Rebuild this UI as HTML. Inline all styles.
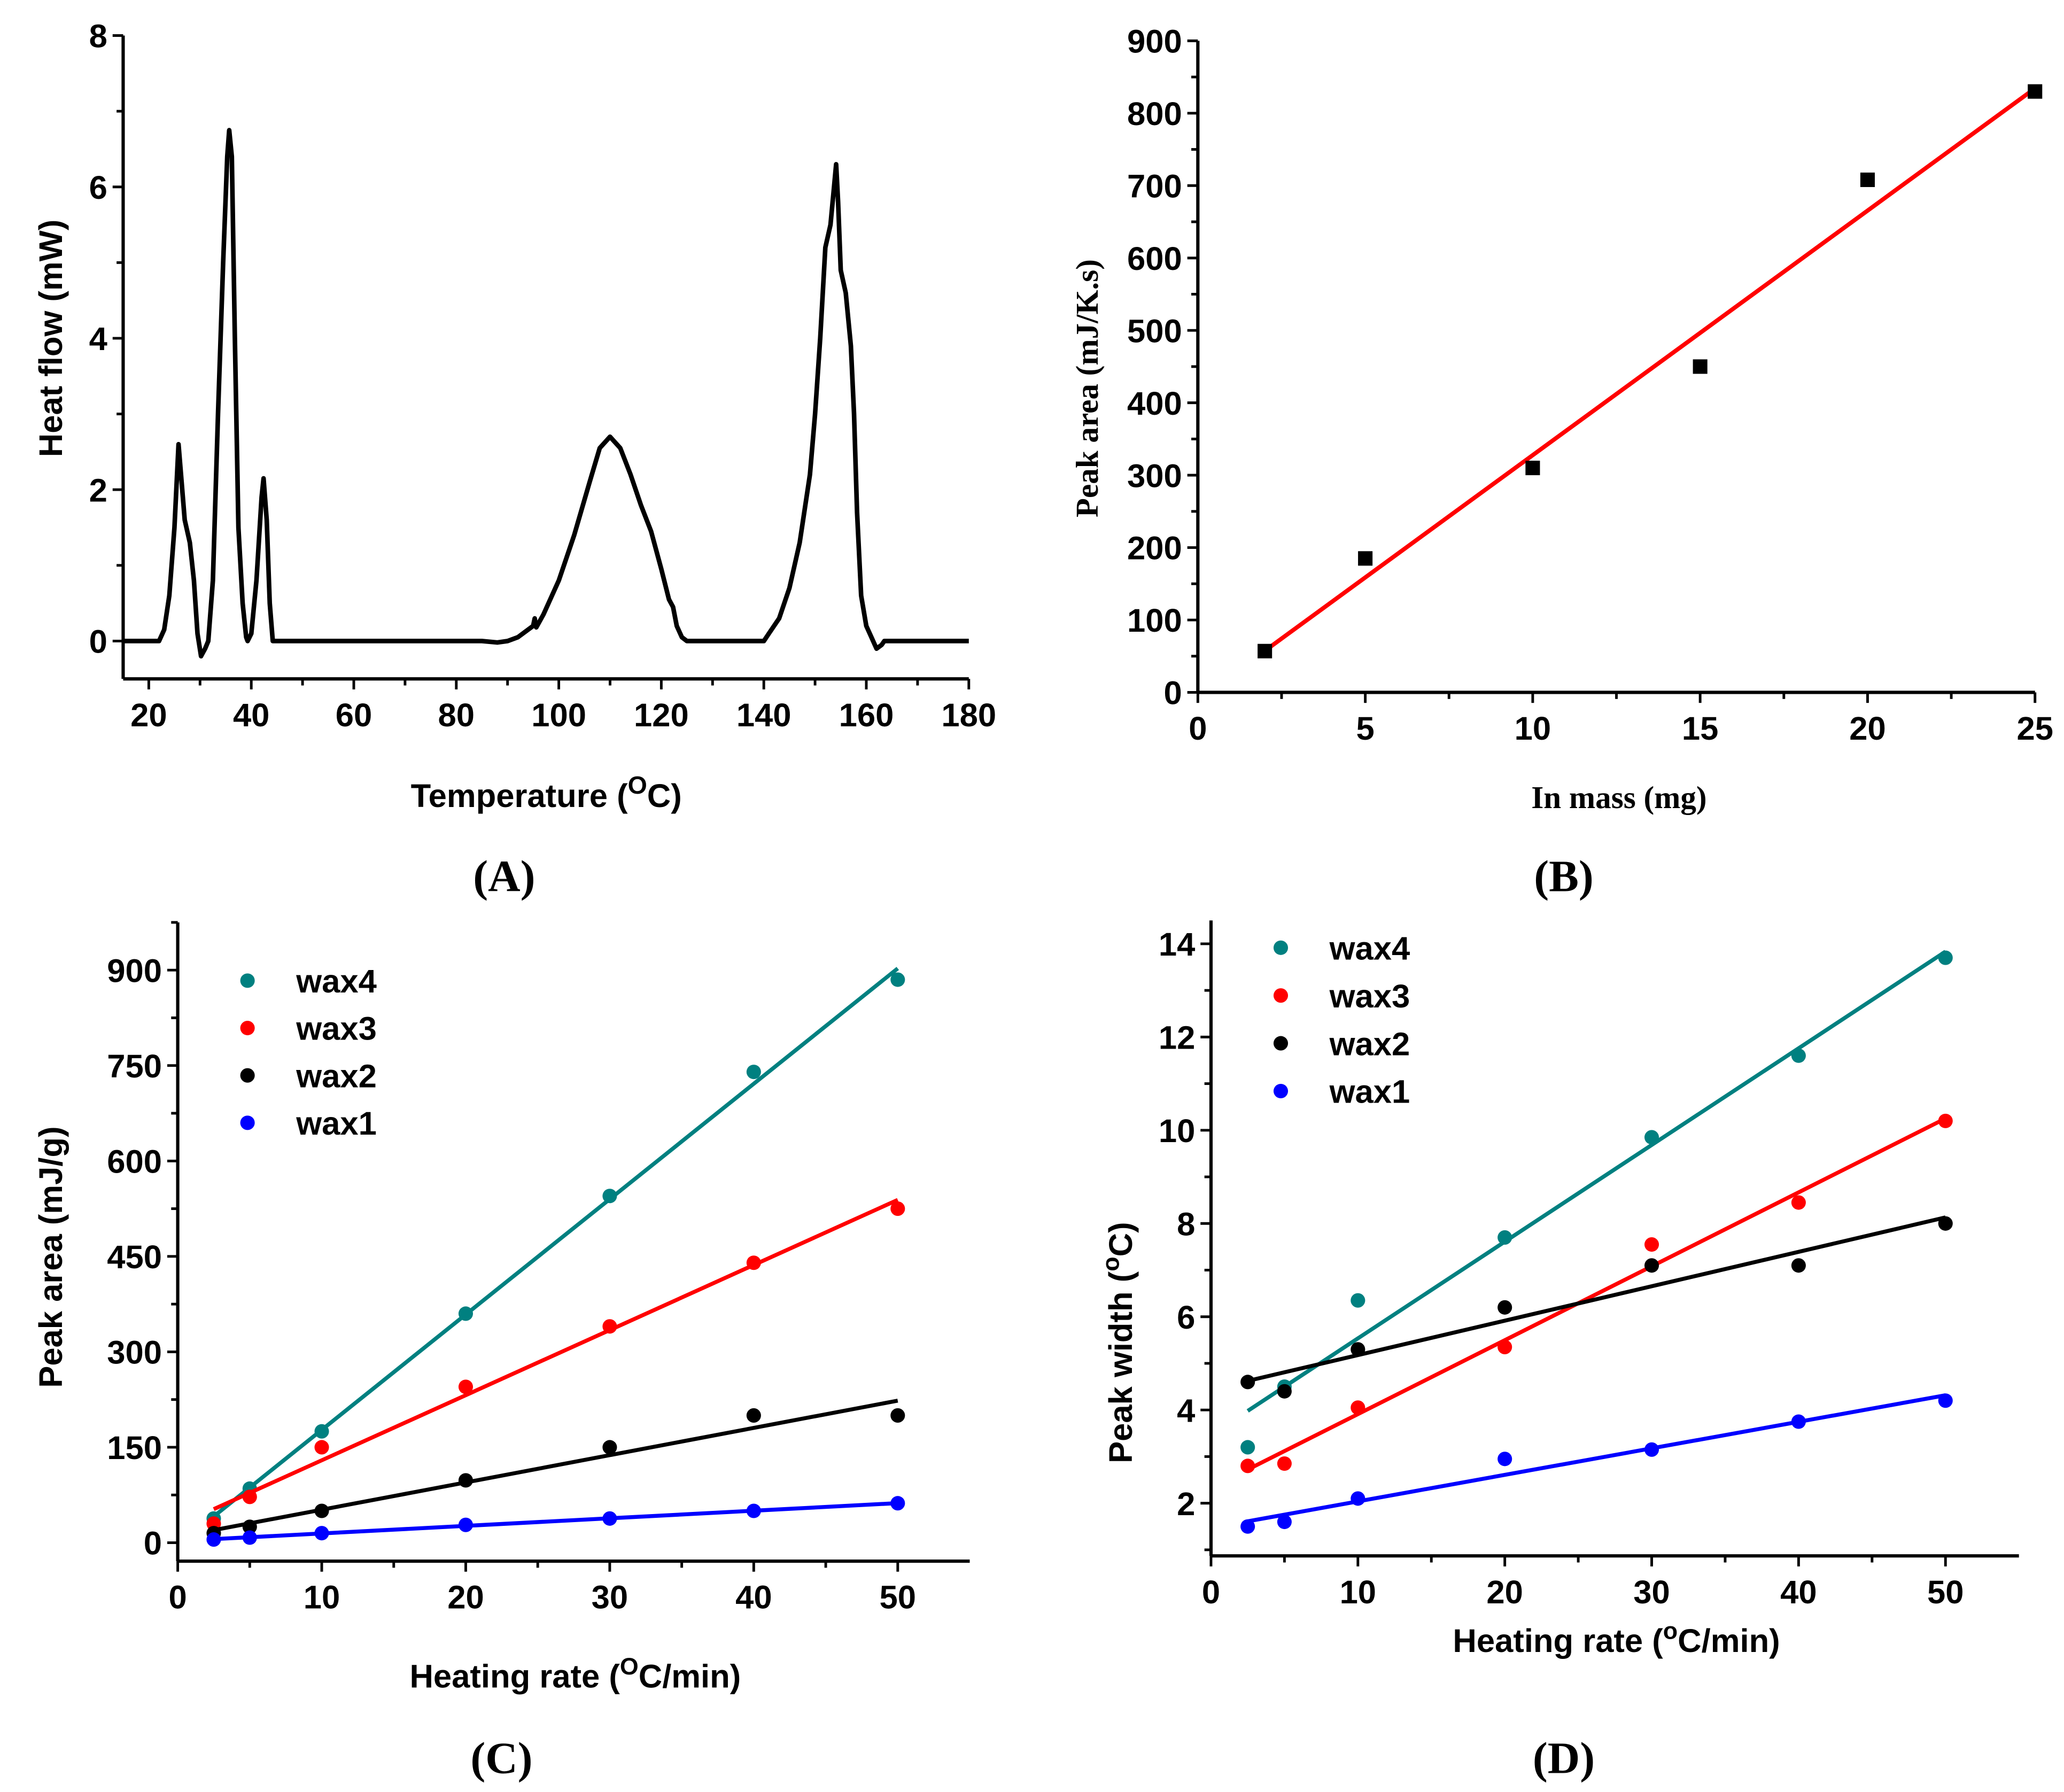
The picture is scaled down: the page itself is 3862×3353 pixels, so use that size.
<!DOCTYPE html>
<html><head><meta charset="utf-8"><style>
html,body{margin:0;padding:0;background:#fff}
svg{display:block}
.tk{font-family:"Liberation Sans",sans-serif;font-weight:bold;font-size:25px}
.ser{font-family:"Liberation Serif",serif;font-weight:bold}
</style></head><body>
<svg id="fig" xmlns="http://www.w3.org/2000/svg" width="3862" height="3353" viewBox="0 0 1568 1361.4">
<rect width="1568" height="1361.4" fill="#fff"/>
</svg>
<script>
// Panel A: DSC curve
const aTemp=[15,22,23,24,25,25.8,27,28,28.8,29.5,30.2,31,31.6,32.5,33.5,34.5,35.3,35.7,36.2,36.8,37.5,38.3,39,39.3,40,41,42,42.4,43,43.6,44.2,85,88,90,92,94,95,95.3,95.6,97,100,103,106,108,110,112,114,116,118,120,121.5,122.3,123,124,125,140,141,143,145,147,149,150,151,152,153,153.7,154.1,154.5,155,156,157,157.6,158.2,159,160,161,162,163,163.5,180];
const aHeat=[0,0,0.15,0.6,1.5,2.6,1.6,1.3,0.8,0.1,-0.2,-0.1,0,0.8,3,5,6.4,6.75,6.4,4,1.5,0.5,0.05,0,0.1,0.8,1.9,2.15,1.6,0.5,0,0,-0.02,0,0.05,0.15,0.2,0.3,0.18,0.35,0.8,1.4,2.1,2.55,2.7,2.55,2.2,1.8,1.45,0.95,0.55,0.45,0.2,0.05,0,0,0.1,0.3,0.7,1.3,2.2,3,4,5.2,5.5,6.0,6.3,5.8,4.9,4.6,3.9,3,1.7,0.6,0.2,0.05,-0.1,-0.05,0,0];
const aXTicks=[20,40,60,80,100,120,140,160,180];
const aYTicks=[0,2,4,6,8];
// Panel B
const bMass=[2,5,10,15,20,25];
const bArea=[57,185,310,450,708,830];
const bXTicks=[0,5,10,15,20,25];
const bYTicks=[0,100,200,300,400,500,600,700,800,900];
// Panel C / D shared categories
const rates=[2.5,5,10,20,30,40,50];
const seriesNames=["wax4","wax3","wax2","wax1"];
const seriesColors=["#008080","#ff0000","#000000","#0000ff"];
const cWax4=[38,85,175,360,545,740,885];
const cWax3=[30,72,150,245,340,440,525];
const cWax2=[15,25,50,98,150,200,200];
const cWax1=[5,8,15,28,38,50,62];
const cYTicks=[0,150,300,450,600,750,900];
const cXTicks=[0,10,20,30,40,50];
const dWax4=[3.2,4.5,6.35,7.7,9.85,11.6,13.7];
const dWax3=[2.8,2.85,4.05,5.35,7.55,8.45,10.2];
const dWax2=[4.6,4.4,5.3,6.2,7.1,7.1,8.0];
const dWax1=[1.5,1.6,2.1,2.95,3.15,3.75,4.2];
const dYTicks=[2,4,6,8,10,12,14];
const dXTicks=[0,10,20,30,40,50];

const NS="http://www.w3.org/2000/svg";
const svg=document.getElementById('fig');
function mk(tag,attrs,parent){const e=document.createElementNS(NS,tag);for(const k in attrs)e.setAttribute(k,attrs[k]);(parent||svg).appendChild(e);return e;}
function lin(d0,d1,p0,p1){return v=>p0+(v-d0)*(p1-p0)/(d1-d0);}
function fit(xs,ys){const n=xs.length;let sx=0,sy=0,sxx=0,sxy=0;for(let i=0;i<n;i++){sx+=xs[i];sy+=ys[i];sxx+=xs[i]*xs[i];sxy+=xs[i]*ys[i];}const m=(n*sxy-sx*sy)/(n*sxx-sx*sx);return [m,(sy-m*sx)/n];}

function axes(g,cfg){
  const {X,Y,x0,x1,y0,y1,xt,yt,xminor,yminor}=cfg;
  const ax=mk('line',{x1:X(x0),y1:Y(y0),x2:X(x1),y2:Y(y0),stroke:'#000','stroke-width':2.5},g);
  
  
  const ay=mk('line',{x1:X(x0),y1:Y(y0),x2:X(x0),y2:Y(y1),stroke:'#000','stroke-width':2.5},g);
  
  
  xt.forEach(v=>{mk('line',{x1:X(v),y1:Y(y0),x2:X(v),y2:Y(y0)+8,stroke:'#000','stroke-width':2},g);
    const t=mk('text',{x:X(v),y:Y(y0)+36,'text-anchor':'middle',class:'tk'},g);t.textContent=v;
    
    });
  xminor.forEach(v=>mk('line',{x1:X(v),y1:Y(y0),x2:X(v),y2:Y(y0)+5,stroke:'#000','stroke-width':2},g));
  yt.forEach(v=>{mk('line',{x1:X(x0),y1:Y(v),x2:X(x0)-8,y2:Y(v),stroke:'#000','stroke-width':2},g);
    const t=mk('text',{x:X(x0)-12,y:Y(v)+9,'text-anchor':'end',class:'tk'},g);t.textContent=v;
    
    });
  yminor.forEach(v=>mk('line',{x1:X(x0),y1:Y(v),x2:X(x0)-5,y2:Y(v),stroke:'#000','stroke-width':2},g));
}
function label(txt,x,y,cls,size,rot,name,sup){
  const t=mk('text',{x:x,y:y,'text-anchor':'middle',class:cls,'font-size':size});
  if(rot)t.setAttribute('transform','rotate(-90 '+x+' '+y+')');
  
  
  if(sup){const parts=txt.split('^');t.appendChild(document.createTextNode(parts[0]));
    const s=mk('tspan',{dy:-10,'font-size':size*0.7},t);s.textContent=sup;
    const r=mk('tspan',{dy:10},t);r.textContent=parts[1];}
  else t.textContent=txt;
  return t;
}

// ---- Panel A ----
(function(){
  const g=mk('g',{});
  const X=lin(20,180,113,736), Y=lin(0,8,487,27);
  const minX=[];for(let v=30;v<=170;v+=20)minX.push(v);
  axes(g,{X,Y,x0:15,x1:180,y0:-0.5,y1:8,xt:aXTicks,yt:aYTicks,xminor:minX,yminor:[1,3,5,7]});
  const d=aTemp.map((t,i)=>(i?'L':'M')+X(t).toFixed(1)+' '+Y(aHeat[i]).toFixed(1)).join('');
  const p=mk('path',{d:d,fill:'none',stroke:'#000','stroke-width':3.5,'stroke-linejoin':'round'},g);
  
  
  label('Heat flow (mW)',47,257,'tk',28,true,'y-axis-title');
  label('Temperature (^C)',415,613,'tk',27,false,'x-axis-title','O');
  label('(A)',383,677,'ser',34,false,'panel-label-a');
})();

// ---- Panel B ----
(function(){
  const g=mk('g',{});
  const X=lin(0,25,910,1546), Y=lin(0,900,526,31);
  const minX=[2.5,7.5,12.5,17.5,22.5], minY=[];for(let v=50;v<900;v+=100)minY.push(v);
  axes(g,{X,Y,x0:0,x1:25,y0:0,y1:900,xt:bXTicks,yt:bYTicks,xminor:minX,yminor:minY});
  const [m,b]=fit(bMass,bArea);
  const x0=bMass[0],x1=bMass[bMass.length-1];
  const l=mk('line',{x1:X(x0),y1:Y(m*x0+b),x2:X(x1),y2:Y(m*x1+b),stroke:'#ff0000','stroke-width':3.2},g);
  
  
  bMass.forEach((v,i)=>{const r=mk('rect',{x:X(v)-5.5,y:Y(bArea[i])-5.5,width:11,height:11,fill:'#000'},g);
    
    });
  label('Peak area (mJ/K.s)',834,295,'ser',24,true,'y-axis-title');
  label('In mass (mg)',1230,614,'ser',24,false,'x-axis-title');
  label('(B)',1188,677,'ser',34,false,'panel-label-b');
})();

function scatterPanel(name,X,Y,data,legX,legY0,legDy){
  const g=mk('g',{});
  data.forEach((ys,si)=>{
    const col=seriesColors[si];
    const [m,b]=fit(rates,ys);
    const x0=rates[0],x1=rates[rates.length-1];
    const l=mk('line',{x1:X(x0),y1:Y(m*x0+b),x2:X(x1),y2:Y(m*x1+b),stroke:col,'stroke-width':3},g);
    
    
    rates.forEach((r,i)=>{const c=mk('circle',{cx:X(r),cy:Y(ys[i]),r:5.5,fill:col},g);
      
      });
    const lc=mk('circle',{cx:legX,cy:legY0+si*legDy,r:5.5,fill:col},g);
    
    
    const lt=mk('text',{x:legX+37,y:legY0+si*legDy+9,class:'tk','font-size':25},g);lt.textContent=seriesNames[si];
    
    
  });
}

// ---- Panel C ----
(function(){
  const X=lin(0,50,135,682), Y=lin(0,900,1172,737);
  const g=mk('g',{});
  const minY=[];for(let v=75;v<=975;v+=150)minY.push(v);
  axes(g,{X,Y,x0:0,x1:55,y0:-29,y1:975,xt:cXTicks,yt:cYTicks,xminor:[5,15,25,35,45],yminor:minY});
  scatterPanel('panel-c-chart',X,Y,[cWax4,cWax3,cWax2,cWax1],188,745,36);
  label('Peak area (mJ/g)',47,955,'tk',26,true,'y-axis-title');
  label('Heating rate (^C/min)',437,1282,'tk',26,false,'x-axis-title','O');
  label('(C)',381,1347,'ser',34,false,'panel-label-c');
})();

// ---- Panel D ----
(function(){
  const X=lin(0,50,920,1478), Y=lin(2,14,1142,717);
  const g=mk('g',{});
  axes(g,{X,Y,x0:0,x1:55,y0:0.87,y1:14.5,xt:dXTicks,yt:dYTicks,xminor:[5,15,25,35,45],yminor:[1,3,5,7,9,11,13]});
  scatterPanel('panel-d-chart',X,Y,[dWax4,dWax3,dWax2,dWax1],973,720,36.3);
  label('Peak width (^C)',860,1020,'tk',26,true,'y-axis-title','o');
  label('Heating rate (^C/min)',1228,1255,'tk',26,false,'x-axis-title','o');
  label('(D)',1188,1347,'ser',34,false,'panel-label-d');
})();
</script>
</body></html>
